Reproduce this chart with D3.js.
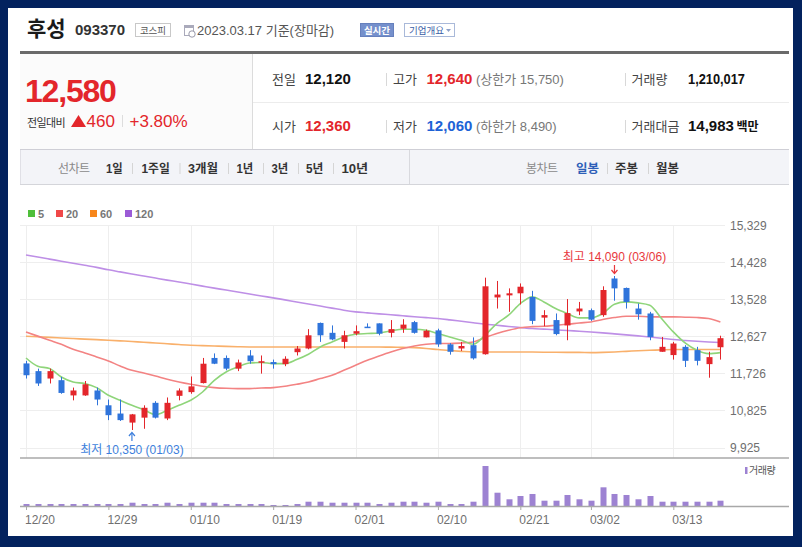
<!DOCTYPE html>
<html><head><meta charset="utf-8">
<script src="https://cdn.jsdelivr.net/npm/d3@7"></script>
<style>
html,body{margin:0;padding:0;background:#03225e;overflow:hidden;}
svg{display:block;}
text{font-family:"Liberation Sans","Noto Sans CJK KR",sans-serif;}
</style></head><body>
<svg id="c" width="802" height="547"></svg>
<script>
// ---------- data ----------
const dates = ["12/20","12/21","12/22","12/23","12/26","12/27","12/28","12/29","01/02","01/03","01/04","01/05","01/06","01/09","01/10","01/11","01/12","01/13","01/16","01/17","01/18","01/19","01/20","01/25","01/26","01/27","01/30","01/31","02/01","02/02","02/03","02/06","02/07","02/08","02/09","02/10","02/13","02/14","02/15","02/16","02/17","02/20","02/21","02/22","02/23","02/24","02/27","02/28","03/02","03/03","03/06","03/07","03/08","03/09","03/10","03/13","03/14","03/15","03/16","03/17"];
const opens  = [11967,11780,11600,11560,11190,11190,11310,10950,10750,10530,10650,11010,10630,11180,11270,11490,12100,12100,11840,12160,12010,12000,11950,12240,12330,12950,12710,12490,12690,12860,12940,12710,12810,12970,12600,12770,12430,12330,12410,12190,13570,13620,13670,13580,13080,13020,12890,13230,13260,13140,14030,13800,13300,13180,12250,12170,12370,12290,11950,12360];
const highs  = [12030,11840,11840,11640,11380,11540,11380,11090,11090,10740,10950,11050,11140,11360,11650,12100,12210,12160,12060,12290,12160,12060,12140,12390,12800,12960,12890,12760,12890,12940,12940,13020,13040,13000,12790,12810,12460,12490,12600,14050,13970,13790,13910,13730,13260,13180,13530,13460,13300,13840,14090,13810,13420,13220,12610,12490,12410,12370,12250,12640];
const lows   = [11600,11420,11480,11230,11070,11180,10950,10590,10570,10350,10380,10630,10590,11070,11230,11480,11950,11800,11780,11960,11720,11840,11900,12160,12310,12490,12530,12330,12650,12840,12650,12600,12710,12690,12600,12370,12180,12270,12060,12180,13300,13220,13400,12920,12870,12650,12530,13140,13000,13100,13490,13300,13030,12530,12250,12060,11880,11920,11620,12060];
const closes = [11680,11480,11780,11250,11310,11460,11090,10710,10590,10730,10890,10650,11010,11310,11410,11960,11960,11840,11990,12020,12020,11950,12080,12330,12650,12650,12550,12650,12750,12840,12690,12800,12910,12710,12760,12430,12250,12390,12090,13840,13640,13670,13830,13000,13140,12680,13190,13300,13030,13750,13790,13460,13160,12610,12370,12450,12030,12030,12120,12580];
const volumes = [450,450,450,450,450,450,450,450,450,750,450,450,750,450,750,750,750,450,450,450,450,230,230,450,980,980,750,750,750,750,450,750,980,980,750,980,450,450,980,9120,3030,1530,2280,2740,1210,1210,2510,1530,1210,4260,2740,2510,1530,2280,980,980,980,980,980,1210].map(v => v * 1000);
const ma5   = [12099,11898,11842,11638,11516,11477,11380,11193,11071,10950,10845,10723,10828,10950,11071,11273,11557,11760,11881,11978,11988,11963,11963,12061,12189,12367,12488,12610,12676,12693,12707,12756,12797,12797,12773,12693,12610,12530,12432,12651,12936,13138,13420,13584,13461,13300,13179,13073,13073,13179,13405,13461,13437,13381,13057,12732,12464,12287,12206,12230];
const ma20  = [12732,12630,12530,12432,12311,12221,12124,12027,11905,11800,11735,11662,11581,11516,11460,11411,11380,11363,11356,11356,11370,11380,11411,11460,11516,11599,11679,11800,11922,12044,12148,12245,12328,12391,12432,12450,12450,12464,12488,12595,12693,12773,12835,12860,12870,12894,12919,12950,12975,13033,13082,13113,13113,13098,13098,13098,13090,13082,13057,12975];
const ma60  = [12627,12615,12600,12586,12572,12558,12544,12530,12515,12500,12480,12464,12445,12425,12408,12400,12390,12380,12372,12367,12367,12367,12367,12367,12367,12367,12367,12367,12367,12365,12365,12362,12360,12350,12330,12304,12280,12260,12245,12245,12245,12245,12245,12243,12240,12238,12236,12235,12230,12235,12245,12260,12275,12287,12295,12304,12304,12304,12304,12304];
const ma120 = [14600,14550,14500,14450,14400,14350,14300,14240,14190,14140,14090,14040,13990,13945,13895,13845,13795,13750,13700,13655,13605,13560,13510,13460,13410,13360,13310,13260,13220,13195,13170,13150,13125,13100,13080,13057,13025,12990,12955,12920,12895,12865,12840,12814,12800,12785,12765,12750,12732,12710,12685,12660,12635,12610,12580,12547,12525,12505,12488,12474];
const yTicks = [15329,14428,13528,12627,11726,10825,9925];
const xTickDates = ["12/20","12/29","01/10","01/19","02/01","02/10","02/21","03/02","03/13"];
const maNames = ["5","20","60","120"];
const toolLeft = ["1일","1주일","3개월","1년","3년","5년","10년"];
const toolRight = ["일봉","주봉","월봉"];

// ---------- styles ----------
const RED = "#e3262b", BLUE = "#2f74db";
const maLineColors = ["#8fd57a","#f38383","#f9b06b","#be8fe6"];
const maLegendColors = ["#4fbf3a","#f04848","#f7861b","#9b5bd6"];
const KR = '"Noto Sans CJK KR","Liberation Sans",sans-serif';

const svg = d3.select("#c");
svg.append("rect").attr("width",802).attr("height",547).attr("fill","#03225e");
svg.append("rect").attr("x",8).attr("y",8).attr("width",785).attr("height",528).attr("fill","#fff");

// ---------- header ----------
const hdr = svg.append("g");
hdr.append("text").attr("x",27).attr("y",36).attr("font-family",KR).attr("font-size",21).attr("font-weight","bold").attr("fill","#1a1a1a").text("후성");
hdr.append("text").attr("x",75).attr("y",35).attr("font-size",15).attr("font-weight","bold").attr("fill","#333").text("093370");
hdr.append("rect").attr("x",135.5).attr("y",23.5).attr("width",35).attr("height",13).attr("fill","#fff").attr("stroke","#c8c8c8");
hdr.append("text").attr("x",153).attr("y",33.5).attr("text-anchor","middle").attr("font-family",KR).attr("font-size",9.5).attr("fill","#555").text("코스피");
// calendar icon
const ic = hdr.append("g").attr("transform","translate(184,24)");
ic.append("rect").attr("x",0.5).attr("y",1.5).attr("width",9).attr("height",10).attr("fill","#fff").attr("stroke","#aab");
ic.append("rect").attr("x",0.5).attr("y",1.5).attr("width",9).attr("height",2.5).attr("fill","#aab");
ic.append("circle").attr("cx",8).attr("cy",10).attr("r",3.2).attr("fill","#fff").attr("stroke","#99a");
hdr.append("text").attr("x",197).attr("y",35).attr("font-size",13).attr("fill","#555").text("2023.03.17 기준(장마감)");
hdr.append("rect").attr("x",360.5).attr("y",23.5).attr("width",33).attr("height",13).attr("fill","#7590cc").attr("stroke","#6680bd");
hdr.append("text").attr("x",377).attr("y",33.5).attr("text-anchor","middle").attr("font-family",KR).attr("font-size",9.5).attr("font-weight","bold").attr("fill","#fff").text("실시간");
hdr.append("rect").attr("x",404.5).attr("y",23.5).attr("width",50).attr("height",13).attr("fill","#fff").attr("stroke","#a9b9d9");
hdr.append("text").attr("x",409).attr("y",33.5).attr("font-family",KR).attr("font-size",9.5).attr("fill","#3d5fa6").text("기업개요");
hdr.append("path").attr("d","M446,29 L451,29 L448.5,32 Z").attr("fill","#8da0c8");
svg.append("rect").attr("x",20).attr("y",51).attr("width",769).attr("height",3).attr("fill","#6a6a6a");

// ---------- price panel ----------
svg.append("rect").attr("x",20).attr("y",54).attr("width",232).attr("height",95).attr("fill","#fbfbfb");
svg.append("line").attr("x1",252.5).attr("x2",252.5).attr("y1",54).attr("y2",149).attr("stroke","#dcdcdc");
svg.append("line").attr("x1",253).attr("x2",789).attr("y1",102.5).attr("y2",102.5).attr("stroke","#ececec");
svg.append("line").attr("x1",20).attr("x2",789).attr("y1",149.5).attr("y2",149.5).attr("stroke","#cfcfd6");
const last = closes.length - 1;
const fmt = d3.format(",");
svg.append("text").attr("x",25).attr("y",102).attr("font-size",32).attr("font-weight","bold").attr("letter-spacing",-1.2).attr("fill",RED).text(fmt(closes[last]));
svg.append("text").attr("x",27).attr("y",127).attr("font-family",KR).attr("font-size",11).attr("letter-spacing",-0.6).attr("fill","#333").text("전일대비");
svg.append("path").attr("d","M71,127 L78.5,115 L86,127 Z").attr("fill",RED);
svg.append("text").attr("x",86.5).attr("y",127).attr("font-size",17).attr("fill",RED).text(fmt(closes[last]-closes[last-1]));
svg.append("line").attr("x1",122.5).attr("x2",122.5).attr("y1",115).attr("y2",127).attr("stroke","#ddd");
svg.append("text").attr("x",129.5).attr("y",127).attr("font-size",17).attr("fill",RED).text("+3.80%");

function infoRow(y, items){
  items.forEach(it=>{
    const t = svg.append("text").attr("x",it.x).attr("y",y).attr("font-size",it.size||13).attr("fill",it.color||"#444");
    if(it.bold) t.attr("font-weight","bold");
    if(it.kr) t.attr("font-family",KR);
    if(it.len) t.attr("textLength",it.len).attr("lengthAdjust","spacingAndGlyphs");
    t.text(it.t);
  });
}
infoRow(84,[
  {x:272,t:"전일",kr:true,color:"#444"},
  {x:305,t:fmt(closes[last-1]),bold:true,size:15,color:"#111"},
  {x:393,t:"고가",kr:true},
  {x:426.5,t:fmt(highs[last]),bold:true,size:15,color:RED},
  {x:476,t:"(상한가 15,750)",size:13,color:"#777"},
  {x:631.5,t:"거래량",kr:true},
  {x:688,t:"1,210,017",bold:true,size:15,color:"#111",len:57}
]);
infoRow(131,[
  {x:272,t:"시가",kr:true},
  {x:305,t:fmt(opens[last]),bold:true,size:15,color:RED},
  {x:393,t:"저가",kr:true},
  {x:426.5,t:fmt(lows[last]),bold:true,size:15,color:"#1d62d6"},
  {x:476,t:"(하한가 8,490)",size:13,color:"#777"},
  {x:631.5,t:"거래대금",kr:true},
  {x:688,t:"14,983",bold:true,size:15,color:"#111"},
  {x:736.5,t:"백만",bold:true,size:12,color:"#111",kr:true}
]);
[386.5,625.5].forEach(x=>{
  [[73,86],[120,133]].forEach(([a,b])=>svg.append("line").attr("x1",x).attr("x2",x).attr("y1",a).attr("y2",b).attr("stroke","#d8d8d8"));
});

// ---------- toolbar ----------
svg.append("rect").attr("x",20).attr("y",150).attr("width",769).attr("height",34).attr("fill","#f3f4f8");
svg.append("line").attr("x1",20).attr("x2",789).attr("y1",184.5).attr("y2",184.5).attr("stroke","#d4d5da");
svg.append("line").attr("x1",20.5).attr("x2",20.5).attr("y1",150).attr("y2",184).attr("stroke","#e0e0e6");
svg.append("line").attr("x1",409.5).attr("x2",409.5).attr("y1",150).attr("y2",184).attr("stroke","#d8d9de");
svg.append("text").attr("x",58).attr("y",173).attr("font-family",KR).attr("font-size",12).attr("letter-spacing",-0.6).attr("fill","#8a8a8a").text("선차트");
const tlx = [106,141.5,188,236.5,271.5,306,341.5];
const tlw = [16.7,28.3,30,16.7,16.7,17.3,26.7];
toolLeft.forEach((s,i)=>{
  svg.append("text").attr("x",tlx[i]).attr("y",173).attr("font-family",KR).attr("font-size",12.5).attr("font-weight","bold")
    .attr("textLength",tlw[i]).attr("lengthAdjust","spacingAndGlyphs").attr("fill","#333").text(s);
});
[132.5,180,228.5,263.5,298.5,333.5].forEach(x=>svg.append("line").attr("x1",x).attr("x2",x).attr("y1",163).attr("y2",174).attr("stroke","#d5d5d5"));
svg.append("text").attr("x",526).attr("y",173).attr("font-family",KR).attr("font-size",12).attr("letter-spacing",-0.6).attr("fill","#8a8a8a").text("봉차트");
const trx = [576,615,656];
toolRight.forEach((s,i)=>{
  svg.append("text").attr("x",trx[i]).attr("y",173).attr("font-family",KR).attr("font-size",12.5).attr("font-weight","bold")
    .attr("textLength",23).attr("lengthAdjust","spacingAndGlyphs").attr("fill",i===0?"#2d5fb8":"#333").text(s);
});
[607.5,648.5].forEach(x=>svg.append("line").attr("x1",x).attr("x2",x).attr("y1",163).attr("y2",174).attr("stroke","#d5d5d5"));

// ---------- legend ----------
const lgx = [28,56,90,125];
maNames.forEach((n,i)=>{
  svg.append("rect").attr("x",lgx[i]).attr("y",210).attr("width",7).attr("height",7).attr("fill",maLegendColors[i]);
  svg.append("text").attr("x",lgx[i]+10).attr("y",217.5).attr("font-size",11).attr("font-weight","bold").attr("fill","#777").text(n);
});

// ---------- scales ----------
const x = d3.scalePoint().domain(dates).range([26,720.4]);
const y = d3.scaleLinear().domain([9925,15329]).range([447.5,225]);
const vy = d3.scaleLinear().domain([0, d3.max(volumes)]).range([506,466]);
const plotL = 20, plotR = 725;

// gridlines
const g = svg.append("g");
g.selectAll(".hg").data(yTicks).join("line").attr("x1",plotL).attr("x2",plotR)
  .attr("y1",d=>Math.round(y(d))+0.5).attr("y2",d=>Math.round(y(d))+0.5).attr("stroke","#eeeeee");
g.selectAll(".vg").data(xTickDates).join("line")
  .attr("x1",d=>Math.round(x(d))+0.5).attr("x2",d=>Math.round(x(d))+0.5).attr("y1",225).attr("y2",458).attr("stroke","#eeeeee");

// y axis labels
const ya = d3.axisRight(y).tickValues(yTicks).tickSize(0).tickPadding(0).tickFormat(fmt);
const yag = svg.append("g").attr("transform","translate(730,0)").call(ya);
yag.select(".domain").remove();
yag.selectAll("text").attr("font-size",12).attr("fill","#6f6f6f").attr("font-family","Liberation Sans, sans-serif").attr("dy","0.36em");

// clip
svg.append("clipPath").attr("id","pc").append("rect").attr("x",plotL).attr("y",222).attr("width",plotR-plotL).attr("height",236);

// MA lines
const mas = [ma120, ma60, ma20, ma5];
const maCols = [maLineColors[3], maLineColors[2], maLineColors[1], maLineColors[0]];
const line = d3.line().x((d,i)=>x(dates[i])).y(d=>y(d)).curve(d3.curveMonotoneX);
const mg = svg.append("g").attr("clip-path","url(#pc)");
mas.forEach((arr,k)=>{
  mg.append("path").attr("d",line(arr)).attr("fill","none").attr("stroke",maCols[k]).attr("stroke-width",1.6);
});

// candles
const idx = d3.range(dates.length);
const cg = svg.append("g");
cg.selectAll(".wick").data(idx).join("line")
  .attr("x1",i=>Math.round(x(dates[i]))+0.5).attr("x2",i=>Math.round(x(dates[i]))+0.5)
  .attr("y1",i=>y(highs[i])).attr("y2",i=>y(lows[i]))
  .attr("stroke",i=>closes[i]>=opens[i]?RED:BLUE).attr("stroke-width",1);
cg.selectAll(".body").data(idx).join("rect")
  .attr("x",i=>Math.round(x(dates[i]))-2.5).attr("width",6)
  .attr("y",i=>y(Math.max(opens[i],closes[i])))
  .attr("height",i=>Math.max(1.5, Math.abs(y(opens[i])-y(closes[i]))))
  .attr("fill",i=>closes[i]>=opens[i]?RED:BLUE);

// min / max annotations
const iMin = d3.minIndex(lows), iMax = d3.maxIndex(highs);
const ax = svg.append("g");
const xmn = x(dates[iMin]), ymn = y(lows[iMin]);
ax.append("line").attr("x1",xmn).attr("x2",xmn).attr("y1",ymn+3).attr("y2",ymn+11).attr("stroke","#3d7fdc").attr("stroke-width",1.2);
ax.append("path").attr("d",`M${xmn-3},${ymn+6} L${xmn},${ymn+2.5} L${xmn+3},${ymn+6}`).attr("fill","none").attr("stroke","#3d7fdc").attr("stroke-width",1.2);
ax.append("text").attr("x",xmn).attr("y",ymn+24).attr("text-anchor","middle").attr("font-size",12).attr("fill","#3d7fdc")
  .text(`최저 ${fmt(lows[iMin])} (${dates[iMin]})`);
const xmx = x(dates[iMax]), ymx = y(highs[iMax]);
ax.append("line").attr("x1",xmx).attr("x2",xmx).attr("y1",ymx-11).attr("y2",ymx-3).attr("stroke","#e8383d").attr("stroke-width",1.2);
ax.append("path").attr("d",`M${xmx-3},${ymx-6} L${xmx},${ymx-2.5} L${xmx+3},${ymx-6}`).attr("fill","none").attr("stroke","#e8383d").attr("stroke-width",1.2);
ax.append("text").attr("x",xmx).attr("y",ymx-15).attr("text-anchor","middle").attr("font-size",12).attr("fill","#e8383d")
  .text(`최고 ${fmt(highs[iMax])} (${dates[iMax]})`);

// main panel bottom line
svg.append("line").attr("x1",20).attr("x2",789).attr("y1",458).attr("y2",458).attr("stroke","#a8a8a8").attr("stroke-width",1.5);

// ---------- volume ----------
svg.selectAll(".vb").data(idx).join("rect")
  .attr("x",i=>Math.round(x(dates[i]))-2.5).attr("width",6)
  .attr("y",i=>vy(volumes[i])).attr("height",i=>506-vy(volumes[i]))
  .attr("fill","#9d82d2");
svg.append("rect").attr("x",745).attr("y",467).attr("width",2.5).attr("height",7).attr("fill","#9d82d2");
svg.append("text").attr("x",749).attr("y",474).attr("font-family",KR).attr("font-size",10).attr("letter-spacing",-0.5).attr("fill","#555").text("거래량");

// x axis
const xa = d3.axisBottom(x).tickValues(xTickDates).tickSize(4).tickPadding(5);
const xag = svg.append("g").attr("transform","translate(0,506)").call(xa);
xag.select(".domain").attr("d","M20,0.5H789").attr("stroke","#a8a8a8").attr("stroke-width",1.5);
xag.selectAll(".tick line").attr("stroke","#a8a8a8");
xag.selectAll("text").attr("font-size",12).attr("fill","#6f6f6f").attr("font-family","Liberation Sans, sans-serif")
  .attr("text-anchor","start").attr("dx",-1.5);
</script>
</body></html>
